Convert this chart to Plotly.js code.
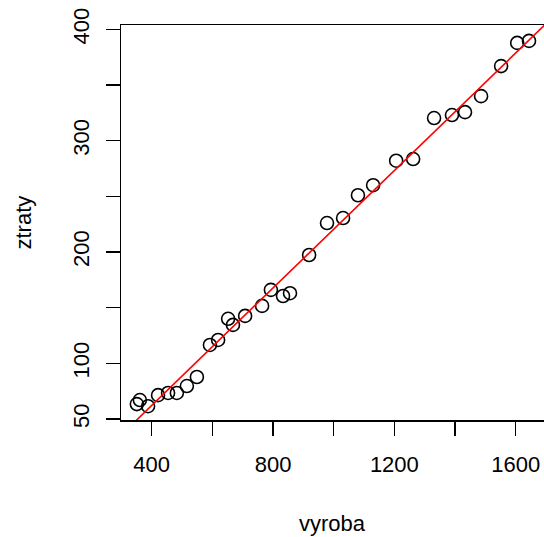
<!DOCTYPE html>
<html>
<head>
<meta charset="utf-8">
<script src="https://cdn.plot.ly/plotly-3.0.1.min.js"></script>
<style>html,body{margin:0;padding:0;background:#fff;}#chart{width:544px;height:537px;}</style>
</head>
<body>
<div id="chart"></div>
<script>
// data
const vyroba = [351, 361, 388, 421, 454, 483, 516, 549, 592, 619, 652, 668, 708, 764, 793, 833, 856, 919, 978, 1031, 1080, 1130, 1206, 1262, 1331, 1390, 1433, 1486, 1552, 1605, 1644];
const ztraty = [63.4, 67, 61.5, 71.4, 73.4, 73.4, 79.6, 87.7, 116.5, 121, 140, 134.5, 142.6, 151.6, 166, 160.5, 163, 197.3, 226, 230.5, 251, 260, 282, 283.5, 320.3, 323, 325.6, 340, 367, 387.8, 389.6];
const xTicks = [400, 600, 800, 1000, 1200, 1400, 1600];
const xTickText = ['400', '', '800', '', '1200', '', '1600'];
const yTicks = [50, 100, 150, 200, 250, 300, 350, 400];
const yTickText = ['50', '100', '', '200', '', '300', '', '400'];

const xRange = [298.8, 1693.4];
const yRange = [49.1, 403.9];

// least squares fit (abline(lm(ztraty ~ vyroba)))
const n = vyroba.length;
const mx = vyroba.reduce((a, b) => a + b, 0) / n;
const my = ztraty.reduce((a, b) => a + b, 0) / n;
let sxy = 0, sxx = 0;
for (let i = 0; i < n; i++) { sxy += (vyroba[i] - mx) * (ztraty[i] - my); sxx += (vyroba[i] - mx) ** 2; }
const b1 = sxy / sxx, b0 = my - b1 * mx;
const lineX = [xRange[0] - 200, xRange[1] + 200];
const lineY = lineX.map(x => b0 + b1 * x);

const font = {family: 'Liberation Sans, Arial, sans-serif', size: 22, color: '#000'};

const traces = [
  {x: vyroba, y: ztraty, type: 'scatter', mode: 'markers',
   marker: {symbol: 'circle-open', size: 13, color: '#000', line: {width: 1.6, color: '#000'}},
   hoverinfo: 'skip'},
  {x: lineX, y: lineY, type: 'scatter', mode: 'lines',
   line: {color: '#ff0000', width: 1.6}, hoverinfo: 'skip'}
];

const layout = {
  width: 544, height: 537,
  margin: {l: 121, r: 0, t: 25, b: 117},
  paper_bgcolor: '#fff', plot_bgcolor: '#fff',
  showlegend: false,
  font: font,
  xaxis: {range: xRange, tickmode: 'array', tickvals: xTicks, ticktext: xTickText,
    showgrid: false, zeroline: false, showline: true, linecolor: '#000', linewidth: 1.5,
    mirror: true, ticks: 'outside', ticklen: 14, tickwidth: 1.5, tickcolor: '#000',
    ticklabelstandoff: 10, tickfont: font, fixedrange: true},
  yaxis: {range: yRange, tickmode: 'array', tickvals: yTicks, ticktext: yTickText,
    showgrid: false, zeroline: false, showline: true, linecolor: '#000', linewidth: 1.5,
    ticks: 'outside', ticklen: 14, tickwidth: 1.5, tickcolor: '#000', tickangle: -90,
    ticklabelstandoff: 8, tickfont: font, fixedrange: true},
  annotations: [
    {text: 'vyroba', xref: 'paper', yref: 'paper', x: 0.5, y: 0, xanchor: 'center', yanchor: 'middle',
     yshift: -103, showarrow: false, font: font},
    {text: 'ztraty', xref: 'paper', yref: 'paper', x: 0, y: 0.5, xanchor: 'center', yanchor: 'middle',
     xshift: -98, textangle: -90, showarrow: false, font: font}
  ]
};

Plotly.newPlot('chart', traces, layout, {staticPlot: true, displayModeBar: false});
</script>
</body>
</html>
